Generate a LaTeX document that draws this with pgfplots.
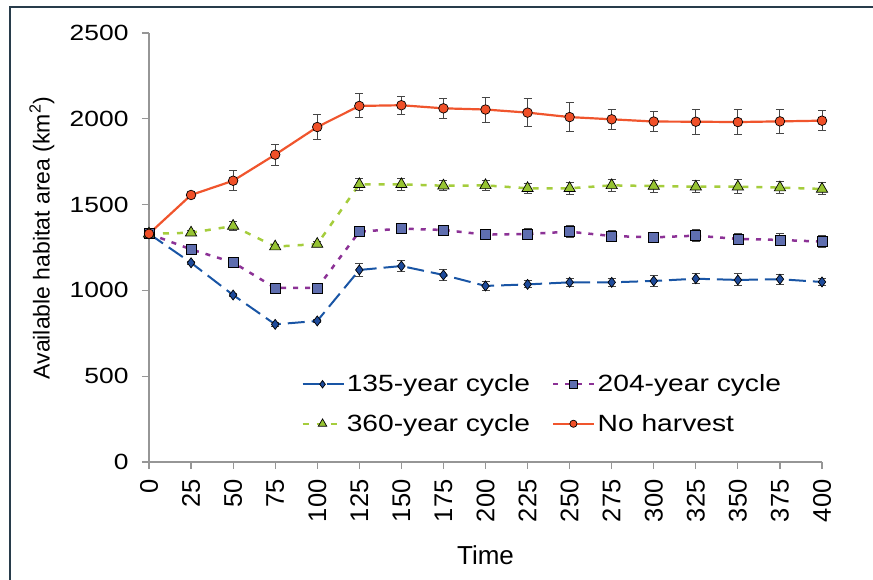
\documentclass[border=0pt]{standalone}
\usepackage{fontspec}
\setmainfont{Liberation Sans}[FakeStretch=1.2]
\newfontfamily\rotfont{Liberation Sans}
\usepackage{pgfplots}
\usepackage{pgfplotstable}
\pgfplotsset{compat=1.18}

\definecolor{cA}{RGB}{25,85,165}
\definecolor{cAf}{RGB}{30,75,155}
\definecolor{cB}{RGB}{140,50,150}
\definecolor{cBf}{RGB}{95,110,175}
\definecolor{cC}{RGB}{165,205,60}
\definecolor{cCf}{RGB}{150,195,50}
\definecolor{cD}{RGB}{240,85,45}
\definecolor{cDf}{RGB}{240,80,40}
\definecolor{ebar}{RGB}{70,70,70}
\definecolor{axgray}{RGB}{150,150,150}
\definecolor{frame}{RGB}{40,60,75}

\pgfplotsset{myerr/.style={error bars/.cd, y dir=both, y explicit,
  error bar style={ebar, line width=1pt, solid},
  error mark options={rotate=90, mark size=4pt, ebar, line width=1pt, solid}}}

\pgfplotstableread{
x y e
0 1330 0
25 1161 10
50 973 10
75 802 10
100 822 10
125 1119 37
150 1142 30
175 1090 33
200 1026 25
225 1035 20
250 1047 25
275 1047 25
300 1055 30
325 1068 30
350 1061 35
375 1065 30
400 1049 20
}\tA
\pgfplotstableread{
x y e
0 1330 0
25 1239 10
50 1163 10
75 1014 10
100 1014 10
125 1342 30
150 1360 25
175 1352 25
200 1325 25
225 1329 30
250 1342 35
275 1317 30
300 1309 30
325 1319 35
350 1300 30
375 1294 35
400 1284 35
}\tB
\pgfplotstableread{
x y e
0 1330 0
25 1336 15
50 1375 25
75 1255 15
100 1270 15
125 1618 35
150 1618 35
175 1610 30
200 1612 30
225 1595 30
250 1595 35
275 1612 35
300 1608 35
325 1604 35
350 1604 40
375 1599 35
400 1591 35
}\tC
\pgfplotstableread{
x y e
0 1330 0
25 1556 10
50 1639 59
75 1791 61
100 1952 72
125 2075 70
150 2079 53
175 2061 60
200 2054 73
225 2036 81
250 2010 85
275 1997 57
300 1984 60
325 1983 74
350 1981 74
375 1985 71
400 1989 60
}\tD

\begin{document}
\begin{tikzpicture}
\useasboundingbox (0pt,0pt) rectangle (873pt,580pt);
\draw[frame, line width=1.5pt] (10pt,0pt) -- (10pt,573pt) -- (873pt,573pt);
\begin{axis}[
  at={(149pt,118pt)}, anchor=south west,
  scale only axis, width=673pt, height=429pt,
  xmin=0, xmax=400, ymin=0, ymax=2500,
  axis x line=bottom, axis y line=left,
  axis line style={-, axgray, line width=1.2pt},
  tick style={axgray, line width=1.2pt},
  tick align=outside, major tick length=7pt,
  xtick={0,25,...,400}, ytick={0,500,...,2500},
  /pgf/number format/assume math mode=true,
  /pgf/number format/1000 sep={},
  yticklabel style={font=\fontsize{22}{25}\selectfont, xshift=-10pt},
  xticklabel style={font=\rotfont\fontsize{25.5}{28}\selectfont, rotate=90, anchor=east, xshift=-7pt},
  xlabel={\rotfont\fontsize{26}{30}\selectfont Time},
  ylabel={\rotfont\fontsize{23}{27}\selectfont Available habitat area (km\textsuperscript{2})},
  xlabel style={at={(axis description cs:0.5,-0.217)}, anchor=center},
  ylabel style={at={(axis description cs:-0.159,0.522)}, anchor=center},
  clip=false,
  legend columns=2,
  legend style={draw=none, fill=none, at={(axis description cs:0.226,0.208)}, anchor=north west,
    font=\fontsize{23.5}{27}\selectfont, inner sep=0pt,
    /tikz/every even column/.append style={column sep=20pt},
    row sep=17pt},
  legend cell align=left,
  legend image code/.code={\draw[mark repeat=2, mark phase=2, #1, /tikz/every mark/.append style={scale=0.75}] plot coordinates {(0pt,0pt) (20pt,0pt) (41pt,0pt)};},
]
\addplot[cA, line width=2pt, dash pattern=on 17pt off 7pt, mark=diamond*, mark size=5pt,
  mark options={solid, fill=cAf, draw=black, line width=0.7pt}, myerr]
  table[x=x, y=y, y error=e] {\tA};
\addlegendentry{135-year cycle}
\addplot[cB, line width=2.5pt, dash pattern=on 5pt off 7pt, mark=square*, mark size=5pt,
  mark options={solid, fill=cBf, draw=black, line width=0.7pt}, myerr]
  table[x=x, y=y, y error=e] {\tB};
\addlegendentry{204-year cycle}
\addplot[cC, line width=2.5pt, dash pattern=on 6pt off 8pt, mark=triangle*, mark size=6.5pt,
  mark options={solid, fill=cCf, draw=black, line width=0.7pt}, myerr]
  table[x=x, y=y, y error=e] {\tC};
\addlegendentry{360-year cycle}
\addplot[cD, line width=2.2pt, solid, mark=*, mark size=4.8pt,
  mark options={solid, fill=cDf, draw=black, line width=0.7pt}, myerr]
  table[x=x, y=y, y error=e] {\tD};
\addlegendentry{No harvest}
\end{axis}
\end{tikzpicture}
\end{document}
